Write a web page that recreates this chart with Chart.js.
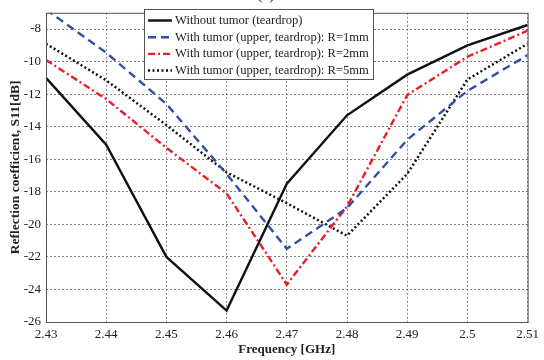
<!DOCTYPE html>
<html>
<head>
<meta charset="utf-8">
<title>Reflection coefficient vs frequency</title>
<script src="https://cdn.jsdelivr.net/npm/chart.js@4/dist/chart.umd.min.js"></script>
<style>
    html, body { margin: 0; padding: 0; background: #ffffff; }
    #wrap { width: 544px; height: 360px; }
</style>
</head>
<body>
<div id="wrap"><canvas id="s11Chart" width="544" height="360"></canvas></div>
<script>
// ---- data ----
const frequencies = [2.43, 2.44, 2.45, 2.46, 2.47, 2.48, 2.49, 2.50, 2.51];
const xTicks = [2.43, 2.44, 2.45, 2.46, 2.47, 2.48, 2.49, 2.5, 2.51];
const yTicks = [-26, -24, -22, -20, -18, -16, -14, -12, -10, -8];

const withoutTumor = [-11.0, -15.1, -22.0, -25.3, -17.5, -13.3, -10.8, -9.0, -7.75];
const tumorR1 = [-6.8, -9.45, -12.6, -16.9, -21.5, -19.0, -14.8, -11.8, -9.6];
const tumorR2 = [-9.9, -12.3, -15.3, -18.1, -23.7, -18.9, -12.05, -9.7, -8.1];
const tumorR5 = [-8.9, -11.15, -13.9, -16.8, -18.7, -20.7, -16.9, -11.1, -8.9];

const serif = "'Liberation Serif', 'DejaVu Serif', serif";

function toPoints(values) {
    return frequencies.map((f, i) => ({ x: f, y: values[i] }));
}

// frame on all four sides + partly cut "(a)" caption
const framePlugin = {
    id: "frame",
    afterDatasetsDraw(chart) {
        const { ctx, chartArea: a } = chart;
        ctx.save();
        ctx.strokeStyle = "#555";
        ctx.lineWidth = 1;
        ctx.strokeRect(a.left + 0.5, a.top + 0.5, a.right - a.left, a.bottom - a.top);
        ctx.fillStyle = "#222";
        ctx.font = "16px " + serif;
        ctx.textAlign = "center";
        ctx.textBaseline = "middle";
        ctx.fillText("(a)", 266, -5);
        ctx.restore();
    }
};

// boxed legend inside the plot, like the original
const boxLegend = {
    id: "boxLegend",
    afterDraw(chart) {
        const { ctx } = chart;
        const x = 144, y = 9, w = 229, h = 70, row = 16.7;
        ctx.save();
        ctx.fillStyle = "#fff";
        ctx.fillRect(x, y, w, h);
        ctx.strokeStyle = "#555";
        ctx.lineWidth = 1;
        ctx.strokeRect(x + 0.5, y + 0.5, w, h);
        ctx.font = "12.6px " + serif;
        ctx.textBaseline = "middle";
        chart.data.datasets.forEach((ds, i) => {
            const cy = y + 11.5 + i * row;
            ctx.strokeStyle = ds.borderColor;
            ctx.lineWidth = ds.borderWidth;
            ctx.setLineDash(ds.borderDash || []);
            ctx.beginPath();
            ctx.moveTo(x + 4, cy);
            ctx.lineTo(x + 28, cy);
            ctx.stroke();
            ctx.setLineDash([]);
            ctx.fillStyle = "#222";
            ctx.fillText(ds.label, x + 31, cy);
        });
        ctx.restore();
    }
};

const gridStyle = { color: "#666", lineWidth: 0.8, drawTicks: false };
const gridBorder = { display: false, dash: [2, 2] };

new Chart(document.getElementById("s11Chart"), {
    type: "line",
    data: {
        datasets: [
            {
                label: "Without tumor (teardrop)",
                data: toPoints(withoutTumor),
                borderColor: "#111",
                borderWidth: 2.4
            },
            {
                label: "With tumor (upper, teardrop): R=1mm",
                data: toPoints(tumorR1),
                borderColor: "#2f4ea6",
                borderWidth: 2.4,
                borderDash: [8, 5]
            },
            {
                label: "With tumor (upper, teardrop): R=2mm",
                data: toPoints(tumorR2),
                borderColor: "#ee1c25",
                borderWidth: 2.4,
                borderDash: [7, 3, 2, 3]
            },
            {
                label: "With tumor (upper, teardrop): R=5mm",
                data: toPoints(tumorR5),
                borderColor: "#111",
                borderWidth: 2.5,
                borderDash: [2, 2.5]
            }
        ]
    },
    options: {
        responsive: false,
        animation: false,
        layout: { padding: { top: 7, right: 12, left: 0, bottom: 0 } },
        elements: { point: { radius: 0 }, line: { tension: 0 } },
        plugins: {
            legend: { display: false },
            tooltip: { enabled: false }
        },
        scales: {
            x: {
                type: "linear",
                min: 2.43,
                max: 2.51,
                afterBuildTicks: (s) => { s.ticks = xTicks.map((v) => ({ value: v })); },
                afterFit: (s) => { s.height = 38; },
                border: gridBorder,
                grid: gridStyle,
                ticks: {
                    color: "#222",
                    padding: 5,
                    font: { family: serif, size: 13 },
                    callback: (v) => String(Math.round(v * 100) / 100)
                },
                title: {
                    display: true,
                    text: "Frequency [GHz]",
                    color: "#222",
                    font: { family: serif, size: 13, weight: "bold" },
                    padding: { top: 0, bottom: 3 }
                }
            },
            y: {
                min: -26,
                max: -7,
                afterBuildTicks: (s) => { s.ticks = yTicks.map((v) => ({ value: v })); },
                afterFit: (s) => { s.width = 46; },
                border: gridBorder,
                grid: gridStyle,
                ticks: {
                    color: "#222",
                    padding: 5,
                    font: { family: serif, size: 13 }
                },
                title: {
                    display: true,
                    text: "Reflection coefficient, S11[dB]",
                    color: "#222",
                    font: { family: serif, size: 13.5, weight: "bold" },
                    padding: { top: 7, bottom: 0 }
                }
            }
        }
    },
    plugins: [framePlugin, boxLegend]
});
</script>
</body>
</html>
